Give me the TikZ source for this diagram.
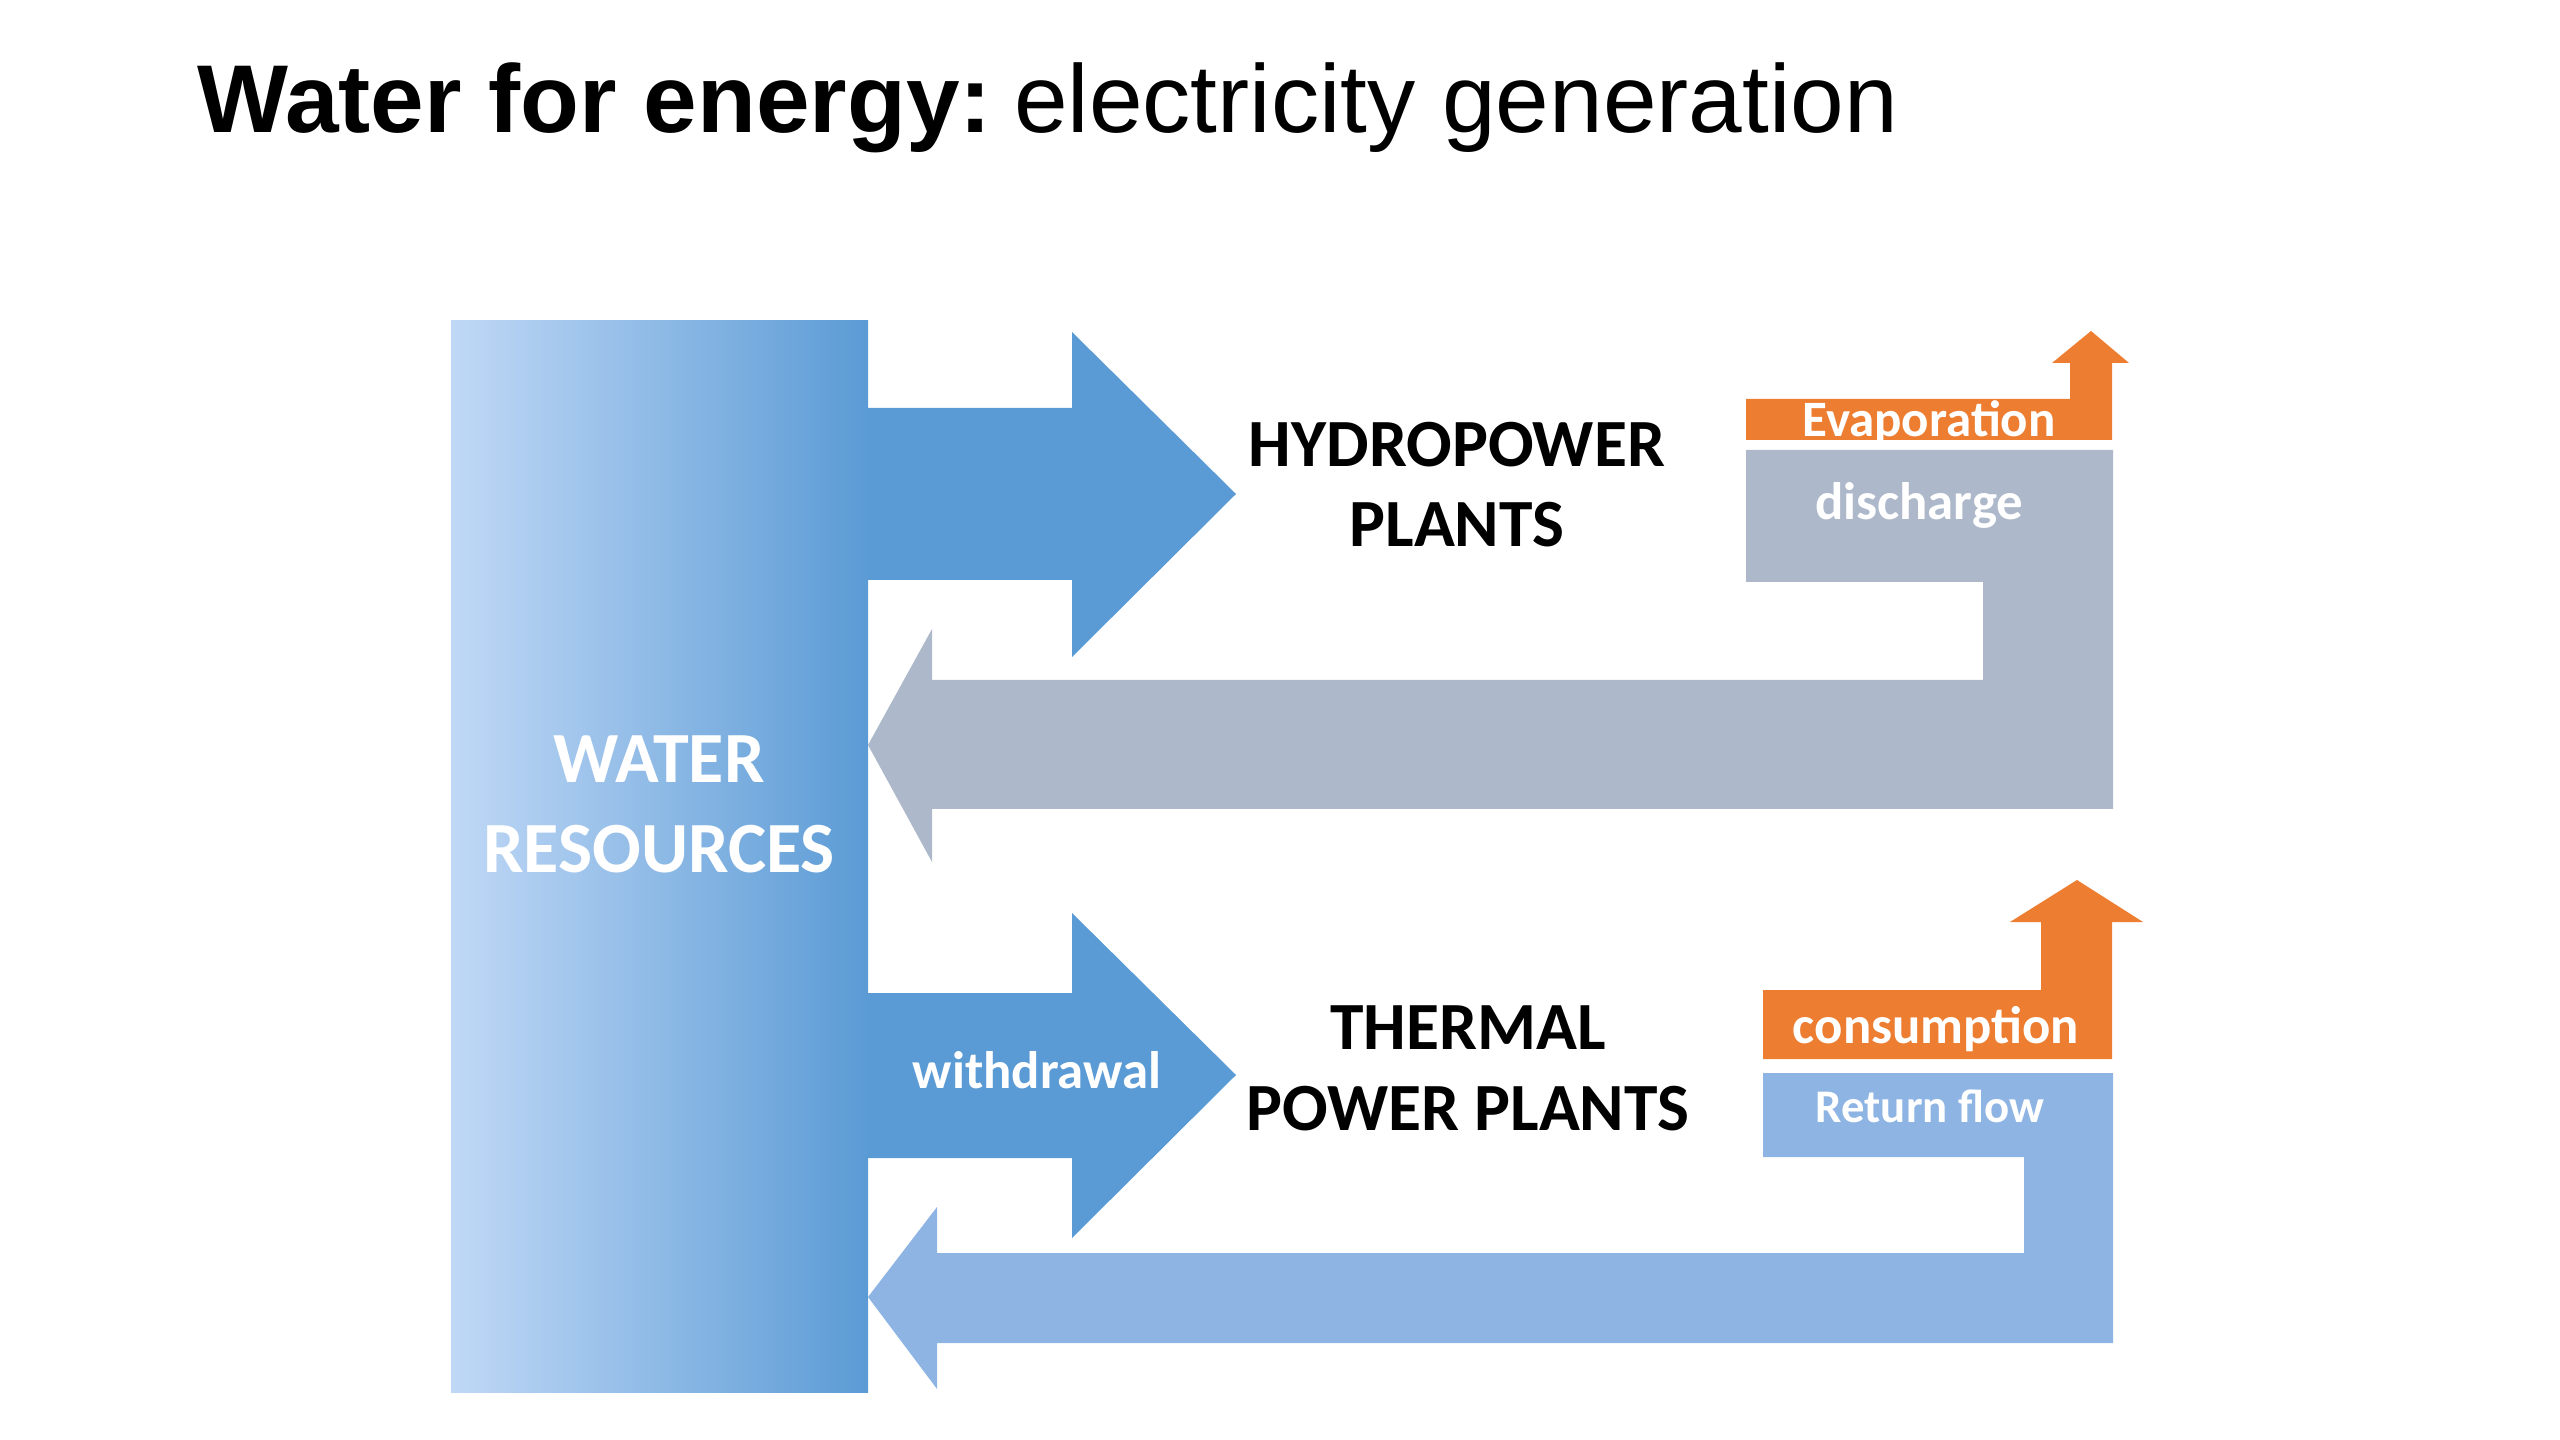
\documentclass[tikz,border=0pt]{standalone}
\usepackage{fontspec}
\setmainfont{Carlito}
\newfontfamily\titlefont{Liberation Sans}
\usepackage{tikz}

\definecolor{flowblue}{RGB}{91,155,213}
\definecolor{flowgray}{RGB}{173,185,202}
\definecolor{floworange}{RGB}{237,125,49}
\definecolor{returnblue}{RGB}{142,180,227}
\definecolor{waterlight}{RGB}{192,216,246}
\definecolor{watermid}{RGB}{156,194,240}

\tikzset{
    flow label/.style={font=\bfseries\fontsize{15}{18}\selectfont, text=white, inner sep=0pt, anchor=base},
    plant label/.style={font=\bfseries\fontsize{19.2}{22.8}\selectfont, align=center, inner sep=0pt, anchor=base},
}

\begin{document}
\begin{tikzpicture}[x=0.01cm, y=-0.01cm]
            \useasboundingbox (0,0) rectangle (2560,1440);
            \node[anchor=base west, inner sep=0pt, font=\titlefont\fontsize{27.4}{32}\selectfont] (title) at (197,133)
                {\textbf{Water for energy:}\hspace{-0.14em} electricity generation};

            % water resources column
            \shade[left color=waterlight, middle color=watermid, right color=flowblue] (451,321) rectangle (868,1392);
            \node[flow label, align=center, font=\bfseries\fontsize{20.5}{25.6}\selectfont] (water) at (659,873) {WATER\\RESOURCES};

            % hydropower
            \fill[flowblue] (866,408) -- (1072,408) -- (1072,332) -- (1236,494) -- (1072,657) -- (1072,580) -- (866,580) -- cycle;
            \fill[flowgray] (1746,450) -- (2113,450) -- (2113,809) -- (932,809) -- (932,862) -- (868,745) -- (932,629)
                -- (932,680) -- (1983,680) -- (1983,582) -- (1746,582) -- cycle;
            \fill[floworange] (1746,440) -- (1746,399) -- (2070,399) -- (2070,363) -- (2052,363) -- (2091,331)
                -- (2129,363) -- (2112,363) -- (2112,440) -- cycle;
            \node[plant label] (hydro) at (1457,547) {HYDROPOWER\\PLANTS};
            \node[flow label, font=\bfseries\fontsize{14.5}{17}\selectfont] (evap) at (1929,437) {Evaporation};
            \node[flow label] (discharge) at (1919,520) {discharge};

            % thermal
            \fill[flowblue] (866,993) -- (1072,993) -- (1072,913) -- (1236,1075) -- (1072,1238) -- (1072,1158) -- (866,1158) -- cycle;
            \fill[returnblue] (1763,1073) -- (2113,1073) -- (2113,1343) -- (937,1343) -- (937,1389) -- (868,1297) -- (937,1207)
                -- (937,1253) -- (2024,1253) -- (2024,1157) -- (1763,1157) -- cycle;
            \fill[floworange] (1763,1059) -- (1763,990) -- (2041,990) -- (2041,922) -- (2010,922) -- (2077,880)
                -- (2143,922) -- (2112,922) -- (2112,1059) -- cycle;
            \node[plant label] (thermal) at (1468,1130) {THERMAL\\POWER PLANTS};
            \node[flow label] (withdrawal) at (1037,1088) {withdrawal};
            \node[flow label] (consumption) at (1936,1043) {consumption};
            \node[flow label, font=\bfseries\fontsize{13.3}{16}\selectfont] (return) at (1930,1122) {Return flow};
        \end{tikzpicture}
\end{document}
